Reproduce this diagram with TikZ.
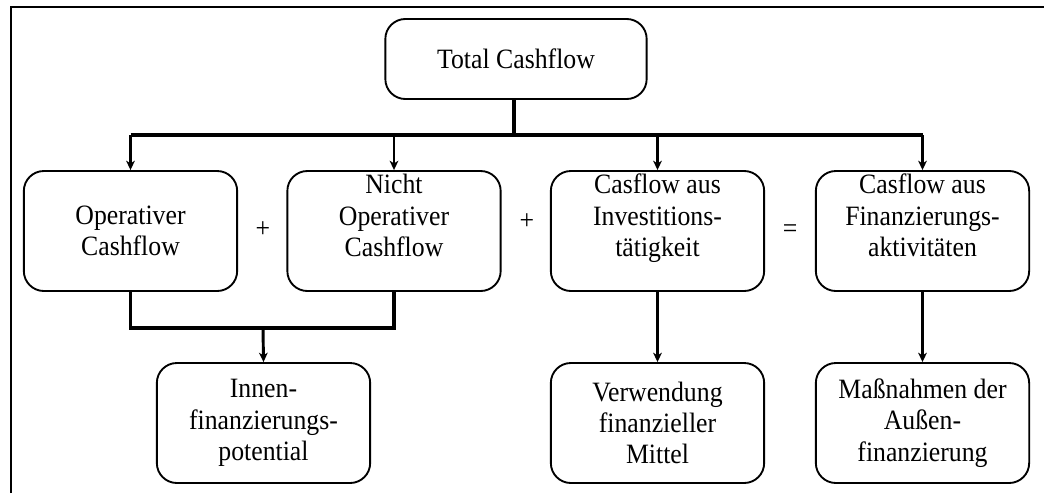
\documentclass[tikz,border=0pt]{standalone}
\usepackage{fontspec}
\setmainfont{Liberation Serif}[FakeStretch=0.92]
\usetikzlibrary{arrows.meta}
\begin{document}
\begin{tikzpicture}[x=0.75pt,y=-0.75pt,
  box/.style={draw,line width=1.4pt,rounded corners=15pt,minimum width=160pt,minimum height=90pt,align=center,inner sep=0pt,font=\fontsize{21}{23.5}\selectfont},
  conn/.style={line width=2.4pt},
  busline/.style={line width=3pt},
  arr/.style={line width=2.2pt,-{Stealth[length=7pt,width=6.5pt,inset=2pt]}},
  op/.style={font=\fontsize{21}{23.5}\selectfont},
  frame/.style={line width=1.5pt}]
\useasboundingbox (0,0) rectangle (1044,493);
\draw[frame] (11,493) -- (11,7) -- (1044,7);
\node[box,minimum width=196pt,minimum height=60pt] (top) at (516,59) {Total Cashflow};
\node[box] (o1) at (130.5,231) {Operativer\\Cashflow};
\node[box] (o2) at (394,231) {Nicht\\Operativer\\Cashflow\\\mbox{}};
\node[box] (o3) at (657.5,231) {Casflow aus\\Investitions-\\tätigkeit\\\mbox{}};
\node[box] (o4) at (922.5,231) {Casflow aus\\Finanzierungs-\\aktivitäten\\\mbox{}};
\node[box] (b1) at (263.5,423) {Innen-\\finanzierungs-\\potential};
\node[box] (b2) at (657.5,423) {Verwendung\\finanzieller\\Mittel};
\node[box] (b3) at (922.5,423) {Maßnahmen der\\Außen-\\finanzierung};
\node[op] (p1) at (263,230) {+};
\node[op] (p2) at (527,222) {+};
\node[op] (eq) at (790,231) {=};
\coordinate (bus) at (514,135);
\coordinate (j) at (263,328);
\draw[busline] (top.south -| bus) -- (bus);
\draw[busline] (o1.north |- bus) -- (o4.north |- bus);
\foreach \n in {o1,o2,o3,o4}{\draw[arr] (\n.north |- bus) -- (\n.north);}
\draw[conn] (o1.south) -- (o1.south |- j) -- (o2.south |- j) -- (o2.south);
\draw[arr] (j) -- (b1.north);
\draw[arr] (o3.south) -- (b2.north);
\draw[arr] (o4.south) -- (b3.north);
\end{tikzpicture}
\end{document}
